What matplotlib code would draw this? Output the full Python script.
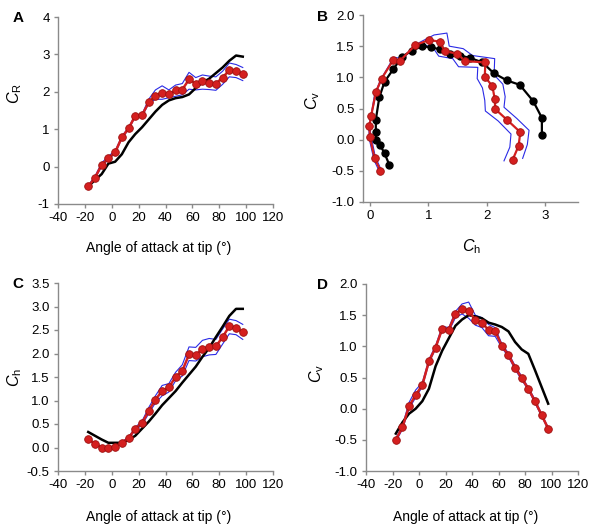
import matplotlib
matplotlib.use("Agg")
import matplotlib.pyplot as plt

plt.rcParams['font.family'] = ['Liberation Sans', 'DejaVu Sans']
plt.rcParams['mathtext.fontset'] = 'custom'
plt.rcParams['mathtext.rm'] = 'Liberation Sans'
plt.rcParams['mathtext.it'] = 'Liberation Sans:italic'
plt.rcParams['axes.unicode_minus'] = False

# angle of attack at tip (deg)
angle = [-17.5, -12.5, -7.5, -2.5, 2.5, 7.5, 12.5, 17.5, 22.5, 27.5, 32.5, 37.5,
         42.5, 47.5, 52.5, 57.5, 62.5, 67.5, 72.5, 77.5, 82.5, 87.5, 92.5, 97.5]

# measured (red) mean
cr_mean = [-0.53, -0.3, 0.05, 0.22, 0.38, 0.78, 1.02, 1.36, 1.37, 1.72, 1.9, 1.98,
           1.93, 2.04, 2.06, 2.33, 2.22, 2.28, 2.24, 2.22, 2.38, 2.58, 2.56, 2.48]
ch_mean = [0.18, 0.08, 0.0, -0.01, 0.02, 0.1, 0.2, 0.4, 0.52, 0.78, 1.02, 1.2,
           1.28, 1.5, 1.63, 1.98, 1.97, 2.1, 2.14, 2.15, 2.35, 2.58, 2.55, 2.45]
cv_mean = [-0.5, -0.3, 0.04, 0.22, 0.38, 0.76, 0.98, 1.28, 1.27, 1.52, 1.6, 1.57,
           1.42, 1.38, 1.26, 1.24, 1.01, 0.86, 0.66, 0.49, 0.32, 0.12, -0.1, -0.32]

# blue envelopes (upper / lower)
cr_hi = [-0.5, -0.26, 0.1, 0.28, 0.42, 0.81, 1.05, 1.38, 1.4, 1.8, 2.05, 2.16,
         2.05, 2.18, 2.22, 2.52, 2.38, 2.45, 2.42, 2.4, 2.55, 2.77, 2.73, 2.65]
cr_lo = [-0.56, -0.32, 0.0, 0.2, 0.35, 0.75, 0.99, 1.33, 1.34, 1.68, 1.8, 1.8,
         1.84, 1.88, 1.92, 2.07, 2.05, 2.07, 2.06, 2.04, 2.2, 2.4, 2.38, 2.3]
ch_hi = [0.19, 0.09, 0.01, 0.0, 0.03, 0.12, 0.22, 0.43, 0.56, 0.85, 1.1, 1.32,
         1.36, 1.6, 1.76, 2.14, 2.13, 2.28, 2.32, 2.3, 2.52, 2.73, 2.7, 2.62]
ch_lo = [0.17, 0.07, -0.01, -0.02, 0.01, 0.08, 0.18, 0.37, 0.48, 0.72, 0.95, 1.1,
         1.18, 1.42, 1.52, 1.85, 1.84, 1.93, 1.97, 1.98, 2.2, 2.42, 2.4, 2.3]
cv_hi = [-0.48, -0.27, 0.1, 0.3, 0.42, 0.79, 1.01, 1.32, 1.3, 1.56, 1.68, 1.71,
         1.5, 1.46, 1.35, 1.3, 1.04, 0.89, 0.69, 0.52, 0.34, 0.15, -0.08, -0.3]
cv_lo = [-0.53, -0.33, 0.0, 0.18, 0.35, 0.73, 0.96, 1.26, 1.24, 1.46, 1.52, 1.45,
         1.34, 1.3, 1.17, 1.16, 0.98, 0.83, 0.63, 0.46, 0.3, 0.09, -0.12, -0.34]

# model (black)
cr_model = [-0.53, -0.36, -0.2, 0.08, 0.13, 0.33, 0.65, 0.87, 1.05, 1.26, 1.47, 1.65,
            1.77, 1.83, 1.86, 1.93, 2.1, 2.25, 2.35, 2.5, 2.65, 2.83, 2.97, 2.94]
ch_model = [0.33, 0.25, 0.17, 0.1, 0.1, 0.1, 0.16, 0.25, 0.4, 0.55, 0.72, 0.9,
            1.05, 1.2, 1.38, 1.55, 1.72, 1.93, 2.12, 2.35, 2.57, 2.8, 2.95, 2.95]
cv_model = [-0.4, -0.22, -0.08, 0.0, 0.12, 0.32, 0.68, 0.93, 1.13, 1.33, 1.43, 1.5,
            1.48, 1.45, 1.38, 1.35, 1.31, 1.24, 1.07, 0.95, 0.88, 0.62, 0.35, 0.08]

RED = '#d41f1f'
RED_EDGE = '#9e1010'
BLUE = '#2a2ae6'
SPINE = '#8a8a8a'


def style_axes(ax):
    for side in ['top', 'right']:
        ax.spines[side].set_visible(False)
    for side in ['left', 'bottom']:
        ax.spines[side].set_color(SPINE)
        ax.spines[side].set_linewidth(1.0)
    ax.tick_params(direction='out', length=3, width=1, color=SPINE,
                   labelsize=9.5, pad=3)


def draw_vs_angle(ax, mean, hi, lo, model):
    ax.plot(angle, hi, color=BLUE, lw=0.8)
    ax.plot(angle, lo, color=BLUE, lw=0.8)
    ax.plot(angle, model, color='black', lw=1.8)
    ax.plot(angle, mean, color=RED, lw=1.8, marker='o', ms=5.5,
            mfc=RED, mec=RED_EDGE, mew=0.6)
    ax.set_xlim(-40, 120)
    ax.set_xticks([-40, -20, 0, 20, 40, 60, 80, 100, 120])
    style_axes(ax)


def place_labels(ax, ylab, yx, yy, xlab, xx, xy):
    ax.set_ylabel(ylab, fontsize=11.5)
    ax.yaxis.set_label_coords(yx, yy)
    ax.yaxis.label.set_va('center')
    ax.set_xlabel(xlab, fontsize=10 if xlab.startswith('A') else 11.5)
    ax.xaxis.set_label_coords(xx, xy)
    ax.xaxis.label.set_va('center')


fig = plt.figure(figsize=(6, 5.31), dpi=100)

# A
axA = fig.add_axes([58 / 600, 1 - 204 / 531, 215 / 600, 187 / 531])
draw_vs_angle(axA, cr_mean, cr_hi, cr_lo, cr_model)
axA.set_ylim(-1, 4)
axA.set_yticks([-1, 0, 1, 2, 3, 4])
place_labels(axA, r'$C_\mathrm{R}$', -0.2, 0.59,
             'Angle of attack at tip (°)', 0.47, -0.235)

# B
axB = fig.add_axes([363 / 600, 1 - 202 / 531, 215 / 600, 187 / 531])
axB.plot(ch_hi, cv_hi, color=BLUE, lw=0.8)
axB.plot(ch_lo, cv_lo, color=BLUE, lw=0.8)
axB.plot(ch_model, cv_model, color='black', lw=1.6, marker='o', ms=5,
         mfc='black', mec='black')
axB.plot(ch_mean, cv_mean, color=RED, lw=1.6, marker='o', ms=5.5,
         mfc=RED, mec=RED_EDGE, mew=0.6)
axB.set_xlim(-0.12, 3.57)
axB.set_xticks([0, 1, 2, 3])
axB.set_ylim(-1, 2)
axB.set_yticks([-1.0, -0.5, 0.0, 0.5, 1.0, 1.5, 2.0])
axB.set_yticklabels(['-1.0', '-0.5', '0.0', '0.5', '1.0', '1.5', '2.0'])
style_axes(axB)
place_labels(axB, r'$C_\mathrm{v}$', -0.233, 0.545,
             r'$C_\mathrm{h}$', 0.507, -0.24)

# C
axC = fig.add_axes([58 / 600, 1 - 471 / 531, 215 / 600, 188 / 531])
draw_vs_angle(axC, ch_mean, ch_hi, ch_lo, ch_model)
axC.set_ylim(-0.5, 3.5)
axC.set_yticks([-0.5, 0.0, 0.5, 1.0, 1.5, 2.0, 2.5, 3.0, 3.5])
axC.set_yticklabels(['-0.5', '0.0', '0.5', '1.0', '1.5', '2.0', '2.5', '3.0', '3.5'])
place_labels(axC, r'$C_\mathrm{h}$', -0.2, 0.5,
             'Angle of attack at tip (°)', 0.47, -0.245)

# D
axD = fig.add_axes([366 / 600, 1 - 471 / 531, 212 / 600, 187 / 531])
draw_vs_angle(axD, cv_mean, cv_hi, cv_lo, cv_model)
axD.set_ylim(-1, 2)
axD.set_yticks([-1.0, -0.5, 0.0, 0.5, 1.0, 1.5, 2.0])
axD.set_yticklabels(['-1.0', '-0.5', '0.0', '0.5', '1.0', '1.5', '2.0'])
place_labels(axD, r'$C_\mathrm{v}$', -0.235, 0.52,
             'Angle of attack at tip (°)', 0.47, -0.246)

for lab, x, y in [('A', 18, 18), ('B', 322, 17), ('C', 18, 284), ('D', 322, 285)]:
    fig.text(x / 600, 1 - y / 531, lab, fontsize=11, fontweight='bold',
             ha='center', va='center')

fig.savefig('out.png', dpi=100)
